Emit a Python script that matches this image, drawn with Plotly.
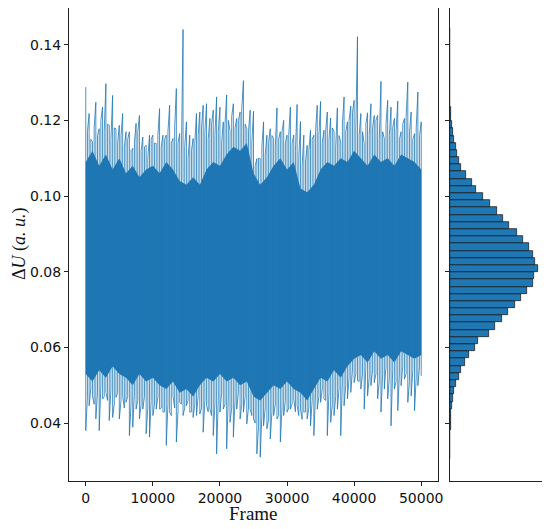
import plotly.graph_objects as go

# ---------------- data ----------------
# upper spike tips, one every 500 frames (0 .. 50000)
peak_frames = list(range(0, 50001, 500))
peak_values = [
    0.1288, 0.1218, 0.1143, 0.1248, 0.1178, 0.1235, 0.1297, 0.1187, 0.1266, 0.1178,
    0.1187, 0.1218, 0.1170, 0.1170, 0.1126, 0.1192, 0.1213, 0.1156, 0.1134, 0.1161,
    0.1161, 0.1139, 0.1231, 0.1161, 0.1161, 0.1240, 0.1152, 0.1284, 0.1165, 0.1440,
    0.1196, 0.1161, 0.1152, 0.1218, 0.1222, 0.1240, 0.1244, 0.1205, 0.1227, 0.1262,
    0.1235, 0.1196, 0.1267, 0.1174, 0.1244, 0.1205, 0.1222, 0.1305, 0.1178, 0.1227,
    0.1224, 0.1099, 0.1099, 0.1196, 0.1161, 0.1178, 0.1152, 0.1233, 0.1170, 0.1200,
    0.1161, 0.1235, 0.1161, 0.1242, 0.1197, 0.1161, 0.1134, 0.1174, 0.1161, 0.1240,
    0.1250, 0.1174, 0.1222, 0.1206, 0.1170, 0.1233, 0.1143, 0.1262, 0.1196, 0.1238,
    0.1253, 0.1421, 0.1218, 0.1139, 0.1220, 0.1244, 0.1213, 0.1213, 0.1303, 0.1152,
    0.1253, 0.1235, 0.1205, 0.1251, 0.1170, 0.1205, 0.1301, 0.1222, 0.1165, 0.1275,
    0.1196,
]
# lower spike tips, one every 500 frames
trough_values = [
    0.0380, 0.0446, 0.0472, 0.0411, 0.0380, 0.0464, 0.0481, 0.0407, 0.0415, 0.0468,
    0.0411, 0.0472, 0.0455, 0.0367, 0.0389, 0.0437, 0.0411, 0.0437, 0.0372, 0.0363,
    0.0420, 0.0437, 0.0437, 0.0429, 0.0341, 0.0429, 0.0472, 0.0350, 0.0455, 0.0420,
    0.0446, 0.0429, 0.0415, 0.0420, 0.0424, 0.0376, 0.0446, 0.0437, 0.0367, 0.0319,
    0.0429, 0.0437, 0.0332, 0.0402, 0.0363, 0.0437, 0.0411, 0.0429, 0.0398, 0.0437,
    0.0411, 0.0319, 0.0310, 0.0393, 0.0385, 0.0358, 0.0420, 0.0411, 0.0350, 0.0420,
    0.0429, 0.0437, 0.0464, 0.0446, 0.0437, 0.0429, 0.0411, 0.0393, 0.0367, 0.0437,
    0.0455, 0.0464, 0.0367, 0.0402, 0.0420, 0.0437, 0.0367, 0.0446, 0.0464, 0.0481,
    0.0507, 0.0512, 0.0490, 0.0437, 0.0472, 0.0499, 0.0507, 0.0464, 0.0429, 0.0490,
    0.0464, 0.0393, 0.0490, 0.0433, 0.0499, 0.0516, 0.0455, 0.0472, 0.0433, 0.0499,
    0.0525,
]
# intermediate (shorter) spikes, at 250, 750, ..., 49750
mid_frames = list(range(250, 50000, 500))
mid_hi = [
    0.1170, 0.1150, 0.1180, 0.1160, 0.1200, 0.1170, 0.1190, 0.1150, 0.1180, 0.1140,
    0.1160, 0.1130, 0.1150, 0.1120, 0.1140, 0.1170, 0.1120, 0.1130, 0.1100, 0.1150,
    0.1140, 0.1160, 0.1130, 0.1150, 0.1170, 0.1140, 0.1180, 0.1140, 0.1110, 0.1130,
    0.1100, 0.1120, 0.1140, 0.1160, 0.1180, 0.1170, 0.1150, 0.1190, 0.1160, 0.1170,
    0.1140, 0.1190, 0.1200, 0.1210, 0.1180, 0.1200, 0.1230, 0.1190, 0.1170, 0.1140,
    0.1080, 0.1100, 0.1130, 0.1110, 0.1140, 0.1160, 0.1130, 0.1150, 0.1170, 0.1140,
    0.1160, 0.1140, 0.1120, 0.1100, 0.1080, 0.1090, 0.1120, 0.1150, 0.1170, 0.1160,
    0.1140, 0.1170, 0.1150, 0.1180, 0.1130, 0.1160, 0.1190, 0.1170, 0.1200, 0.1220,
    0.1180, 0.1160, 0.1170, 0.1190, 0.1160, 0.1180, 0.1200, 0.1150, 0.1170, 0.1190,
    0.1160, 0.1180, 0.1170, 0.1150, 0.1190, 0.1210, 0.1170, 0.1150, 0.1180, 0.1160,
]
mid_lo = [
    0.0470, 0.0490, 0.0450, 0.0480, 0.0500, 0.0470, 0.0460, 0.0490, 0.0450, 0.0480,
    0.0460, 0.0440, 0.0470, 0.0450, 0.0480, 0.0460, 0.0450, 0.0470, 0.0440, 0.0460,
    0.0450, 0.0470, 0.0440, 0.0430, 0.0450, 0.0420, 0.0440, 0.0430, 0.0450, 0.0440,
    0.0460, 0.0430, 0.0450, 0.0470, 0.0440, 0.0460, 0.0430, 0.0420, 0.0450, 0.0460,
    0.0480, 0.0450, 0.0470, 0.0440, 0.0460, 0.0480, 0.0450, 0.0470, 0.0440, 0.0420,
    0.0400, 0.0390, 0.0420, 0.0440, 0.0410, 0.0430, 0.0450, 0.0420, 0.0440, 0.0460,
    0.0440, 0.0450, 0.0430, 0.0420, 0.0410, 0.0430, 0.0440, 0.0460, 0.0480, 0.0470,
    0.0490, 0.0460, 0.0480, 0.0450, 0.0470, 0.0490, 0.0510, 0.0500, 0.0520, 0.0540,
    0.0530, 0.0510, 0.0530, 0.0550, 0.0520, 0.0540, 0.0530, 0.0510, 0.0530, 0.0550,
    0.0520, 0.0540, 0.0510, 0.0530, 0.0550, 0.0530, 0.0510, 0.0540, 0.0520, 0.0550,
]
# solid core of the band, every 1000 frames
core_frames = list(range(0, 50001, 1000))
core_hi = [
    0.109, 0.112, 0.108, 0.111, 0.107, 0.110, 0.106, 0.108, 0.105, 0.107,
    0.108, 0.106, 0.109, 0.107, 0.104, 0.103, 0.105, 0.103, 0.107, 0.109,
    0.108, 0.111, 0.113, 0.112, 0.114, 0.106, 0.103, 0.105, 0.108, 0.110,
    0.107, 0.109, 0.102, 0.101, 0.103, 0.107, 0.109, 0.108, 0.110, 0.109,
    0.112, 0.110, 0.108, 0.111, 0.109, 0.110, 0.108, 0.111, 0.110, 0.109, 0.107,
]
core_lo = [
    0.053, 0.051, 0.054, 0.052, 0.055, 0.053, 0.052, 0.050, 0.053, 0.051,
    0.052, 0.050, 0.049, 0.051, 0.048, 0.049, 0.047, 0.050, 0.052, 0.051,
    0.053, 0.051, 0.052, 0.050, 0.051, 0.047, 0.046, 0.048, 0.050, 0.049,
    0.051, 0.049, 0.048, 0.046, 0.049, 0.052, 0.051, 0.054, 0.052, 0.055,
    0.057, 0.058, 0.056, 0.059, 0.057, 0.058, 0.056, 0.059, 0.058, 0.057, 0.058,
]

# histogram (60 bins of width 0.0019 starting at 0.0305)
bin_start = 0.0305
bin_width = 0.0019
hist_counts = [
    1, 2, 5, 10, 20, 36, 47, 73, 109, 135,
    207, 317, 411, 535, 681, 921, 1030, 1409, 1663, 1904,
    2122, 2377, 2610, 2803, 3047, 3083, 3203, 3119, 3021, 2901,
    2683, 2439, 2148, 1955, 1711, 1467, 1201, 935, 801, 593,
    411, 328, 266, 229, 157, 109, 73, 47, 25, 15,
    8, 4, 2, 1, 1, 0, 0, 0, 0, 1,
]

y_ticks = [0.04, 0.06, 0.08, 0.10, 0.12, 0.14]
y_tick_text = ["0.04", "0.06", "0.08", "0.10", "0.12", "0.14"]
x_ticks = [0, 10000, 20000, 30000, 40000, 50000]
x_tick_text = ["0", "10000", "20000", "30000", "40000", "50000"]

# ---------------- figure ----------------
C0 = "#1f77b4"
OFF = 8                      # page body margin offset
W, H = 550 - OFF, 529 - OFF
ml, mr, mt, mb = 69 - OFF, 8, 0, 48
pw = W - ml - mr
ph = H - mt - mb

fig = go.Figure()

# solid core
fig.add_trace(go.Scatter(
    x=core_frames + core_frames[::-1],
    y=core_hi + core_lo[::-1],
    fill="toself", fillcolor=C0, line=dict(width=0),
    mode="lines", hoverinfo="skip", showlegend=False,
    xaxis="x", yaxis="y"))

# spike line (alternating upper / lower tips)
zx, zy = [], []
for i, (f, p, t) in enumerate(zip(peak_frames, peak_values, trough_values)):
    zx += [f, f]
    zy += [p, t]
    if i < len(mid_frames):
        zx += [mid_frames[i], mid_frames[i]]
        zy += [mid_lo[i], mid_hi[i]]
fig.add_trace(go.Scatter(
    x=zx, y=zy, mode="lines", line=dict(color=C0, width=0.8),
    showlegend=False, xaxis="x", yaxis="y"))

# histogram
centers = [bin_start + bin_width * (i + 0.5) for i in range(len(hist_counts))]
fig.add_trace(go.Bar(
    x=hist_counts, y=centers, orientation="h", width=bin_width,
    marker=dict(color=C0, line=dict(color="#111111", width=0.7)),
    showlegend=False, xaxis="x2", yaxis="y2"))

yr = [0.0247, 0.1497]
axis_common = dict(showline=True, mirror=True, linecolor="#222222", linewidth=1,
                   showgrid=False, zeroline=False, ticks="outside", ticklen=4,
                   tickwidth=1, tickcolor="#222222")
tickfont = dict(family="DejaVu Sans", size=14, color="#111111")

fig.update_layout(
    width=W, height=H,
    margin=dict(l=ml, r=mr, t=mt, b=mb, autoexpand=False),
    paper_bgcolor="white", plot_bgcolor="white",
    bargap=0,
    xaxis=dict(domain=[0, (438 - 69) / pw], range=[-2500, 52500],
               tickvals=x_ticks, ticktext=x_tick_text, tickfont=tickfont,
               **axis_common),
    yaxis=dict(domain=[0, 1], range=yr, tickvals=y_ticks, ticktext=y_tick_text,
               tickfont=tickfont, **axis_common),
    xaxis2=dict(domain=[(450 - 69) / pw, 1], range=[0, max(hist_counts) * 1.05],
                anchor="y2", showticklabels=False,
                **{**axis_common, "ticks": ""}),
    yaxis2=dict(domain=[0, 1], range=yr, anchor="x2", tickvals=y_ticks,
                showticklabels=False, **axis_common),
    annotations=[
        dict(text="Frame", xref="paper", yref="paper",
             x=(253.5 - 69) / pw, y=(481 - 514) / ph,
             xanchor="center", yanchor="middle", showarrow=False,
             font=dict(family="Liberation Serif", size=19, color="#111111")),
        dict(text="Δ<i>U</i> (<i>a. u.</i>)", xref="paper", yref="paper",
             x=(19 - 69) / pw, y=(481 - 244) / ph, textangle=-90,
             xanchor="center", yanchor="middle", showarrow=False,
             font=dict(family="Liberation Serif", size=18, color="#111111")),
    ],
)

fig.write_html("out.html")
